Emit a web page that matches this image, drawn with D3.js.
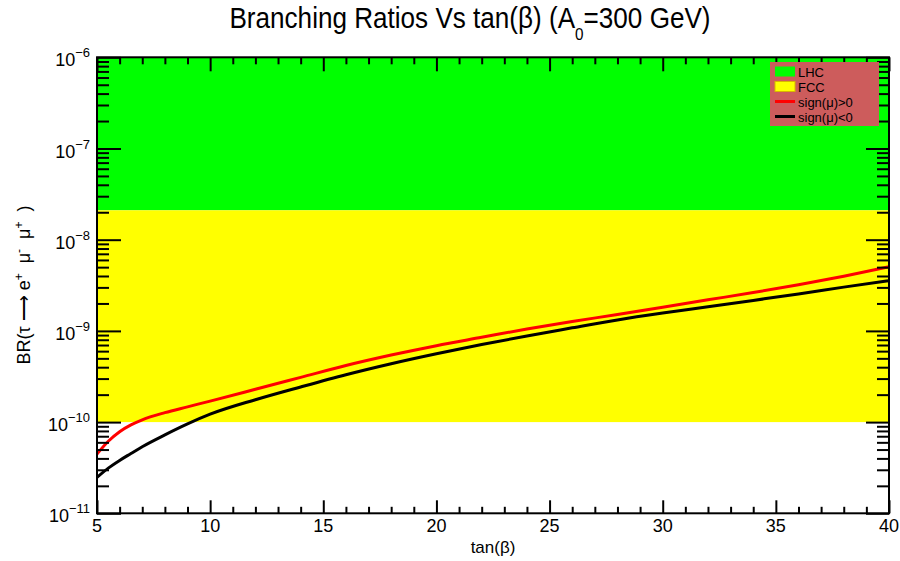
<!DOCTYPE html>
<html>
<head>
<meta charset="utf-8">
<script src="https://cdn.jsdelivr.net/npm/d3@7"></script>
<style>
  body { margin: 0; background: #fff; }
  text { font-family: "Liberation Sans", Arial, sans-serif; fill: #000; }
</style>
</head>
<body>
<svg id="chart" width="900" height="561"></svg>
<script>
// tan(beta) sampling points and branching ratios for both signs of mu
const tanBeta = [5, 5.5, 6, 6.5, 7, 8, 9, 10, 12, 14, 16, 18, 20, 22, 24, 26, 28, 30, 32, 34, 36, 38, 40];
const brMuPositive = [4.47e-11, 6.17e-11, 7.85e-11, 9.33e-11, 1.06e-10, 1.27e-10, 1.47e-10, 1.70e-10,
  2.29e-10, 3.09e-10, 4.17e-10, 5.43e-10, 6.89e-10, 8.51e-10, 1.05e-9, 1.27e-9, 1.51e-9, 1.82e-9,
  2.19e-9, 2.63e-9, 3.20e-9, 3.98e-9, 5.06e-9];
const brMuNegative = [2.48e-11, 3.13e-11, 3.80e-11, 4.52e-11, 5.37e-11, 7.24e-11, 9.55e-11, 1.22e-10,
  1.76e-10, 2.43e-10, 3.31e-10, 4.37e-10, 5.62e-10, 7.08e-10, 8.81e-10, 1.08e-9, 1.32e-9, 1.57e-9,
  1.84e-9, 2.16e-9, 2.54e-9, 3.02e-9, 3.55e-9];

// Experimental sensitivity bands [lower, upper]
const lhcBand = [2.1e-8, 1e-6];
const fccBand = [1e-10, 2.1e-8];

// Axis ranges and tick labels
const xDomain = [5, 40];
const yDomain = [1e-11, 1e-6];
const xTickLabels = [5, 10, 15, 20, 25, 30, 35, 40];
const yTickExponents = [-11, -10, -9, -8, -7, -6];

const legendLabels = ["LHC", "FCC", "sign(\u03BC)>0", "sign(\u03BC)<0"];

const svg = d3.select("#chart");
const plot = { left: 97, right: 889, top: 57.3, bottom: 513.3 };

const x = d3.scaleLinear().domain(xDomain).range([plot.left, plot.right]);
const y = d3.scaleLog().domain(yDomain).range([plot.bottom, plot.top]);

// Bands
const bands = [
  { range: lhcBand, color: "#00ff00" },
  { range: fccBand, color: "#ffff00" }
];
svg.append("g").selectAll("rect").data(bands).join("rect")
  .attr("x", x(xDomain[0]))
  .attr("width", x(xDomain[1]) - x(xDomain[0]))
  .attr("y", d => y(d.range[1]))
  .attr("height", d => y(d.range[0]) - y(d.range[1]))
  .attr("fill", d => d.color);

// Curves
const series = [
  { values: brMuPositive, color: "#ff0000" },
  { values: brMuNegative, color: "#000000" }
];
const line = d3.line()
  .x((d, i) => x(tanBeta[i]))
  .y(d => y(d))
  .curve(d3.curveMonotoneX);
svg.append("g").selectAll("path").data(series).join("path")
  .attr("d", d => line(d.values))
  .attr("fill", "none")
  .attr("stroke", d => d.color)
  .attr("stroke-width", 3);

// Axes: inward ticks on all four sides
const xMinor = d3.range(xDomain[0], xDomain[1] + 0.5, 1).filter(v => !xTickLabels.includes(v));
const yMajor = yTickExponents.map(e => Math.pow(10, e));
const yMinor = [];
yTickExponents.slice(0, -1).forEach(e => {
  for (let m = 2; m <= 9; m++) yMinor.push(m * Math.pow(10, e));
});

function addAxis(axisFn, scale, values, size, transform) {
  const g = svg.append("g")
    .attr("transform", transform)
    .call(axisFn(scale).tickValues(values).tickSize(size).tickFormat(""));
  g.select(".domain").remove();
  g.selectAll("line").attr("stroke", "#000").attr("stroke-width", 2);
  return g;
}

addAxis(d3.axisBottom, x, xTickLabels, -13, `translate(0,${plot.bottom})`);
addAxis(d3.axisBottom, x, xMinor, -6.5, `translate(0,${plot.bottom})`);
addAxis(d3.axisTop, x, xTickLabels, -14, `translate(0,${plot.top})`);
addAxis(d3.axisTop, x, xMinor, -7, `translate(0,${plot.top})`);
addAxis(d3.axisLeft, y, yMajor, -24, `translate(${plot.left},0)`);
addAxis(d3.axisLeft, y, yMinor, -12, `translate(${plot.left},0)`);
addAxis(d3.axisRight, y, yMajor, -23, `translate(${plot.right},0)`);
addAxis(d3.axisRight, y, yMinor, -12, `translate(${plot.right},0)`);

// Frame
svg.append("rect")
  .attr("x", plot.left).attr("y", plot.top)
  .attr("width", plot.right - plot.left).attr("height", plot.bottom - plot.top)
  .attr("fill", "none").attr("stroke", "#000").attr("stroke-width", 2);

// X tick labels
svg.append("g").selectAll("text").data(xTickLabels).join("text")
  .attr("x", d => x(d))
  .attr("y", plot.bottom + 19)
  .attr("text-anchor", "middle")
  .attr("font-size", 18)
  .text(d => d);

// Y tick labels: 10 with superscript exponent
const yLab = svg.append("g").selectAll("text").data(yTickExponents).join("text")
  .attr("x", 90)
  .attr("y", d => y(Math.pow(10, d)) + 9)
  .attr("text-anchor", "end")
  .attr("font-size", 18);
yLab.append("tspan").text("10");
yLab.append("tspan").attr("font-size", 13).attr("dy", -9)
  .text(d => "\u2212" + Math.abs(d));

// Axis titles
svg.append("text")
  .attr("x", 493).attr("y", 553)
  .attr("text-anchor", "middle")
  .attr("font-size", 17)
  .text("tan(\u03B2)");

const yTitle = svg.append("text")
  .attr("transform", "translate(30,285) rotate(-90)")
  .attr("text-anchor", "middle")
  .attr("font-size", 18)
  .style("white-space", "pre");
const yParts = [
  ["BR(\u03C4 \u27F6 e", 0], ["+", -7], ["  \u03BC", 7], ["-", -7], ["  \u03BC", 7], ["+", -7], ["  )", 7]
];
yParts.forEach(([t, dy]) => {
  const ts = yTitle.append("tspan").text(t);
  if (dy) ts.attr("dy", dy);
  if (dy < 0) ts.attr("font-size", 12);
});

// Title
const title = svg.append("text")
  .attr("transform", "translate(470,28) scale(0.9,1)")
  .attr("text-anchor", "middle")
  .attr("font-size", 29);
title.append("tspan").text("Branching Ratios Vs tan(\u03B2) (A");
title.append("tspan").attr("font-size", 17).attr("dy", 12).text("0");
title.append("tspan").attr("dy", -12).text("=300 GeV)");

// Legend
const legend = svg.append("g").attr("transform", "translate(770,62)");
legend.append("rect").attr("width", 109).attr("height", 64).attr("fill", "#cd5c5c");
const rowY = [9.5, 24.5, 39.5, 54.5];
const items = legend.selectAll("g.item").data(legendLabels).join("g")
  .attr("class", "item")
  .attr("transform", (d, i) => `translate(0,${rowY[i]})`);
items.each(function (d, i) {
  const g = d3.select(this);
  if (i === 0) {
    g.append("rect").attr("x", 5).attr("y", -5).attr("width", 20).attr("height", 10).attr("fill", "#00ff00");
  } else if (i === 1) {
    g.append("rect").attr("x", 5).attr("y", -5).attr("width", 20).attr("height", 10)
      .attr("fill", "#ffff00").attr("stroke", "#d8b800").attr("stroke-width", 1);
  } else {
    g.append("line").attr("x1", 5).attr("x2", 25).attr("y1", 0).attr("y2", 0)
      .attr("stroke", i === 2 ? "#ff0000" : "#000").attr("stroke-width", 3);
  }
  g.append("text").attr("x", 28).attr("y", 5).attr("font-size", 13).attr("fill", "#222").text(d);
});
</script>
</body>
</html>
